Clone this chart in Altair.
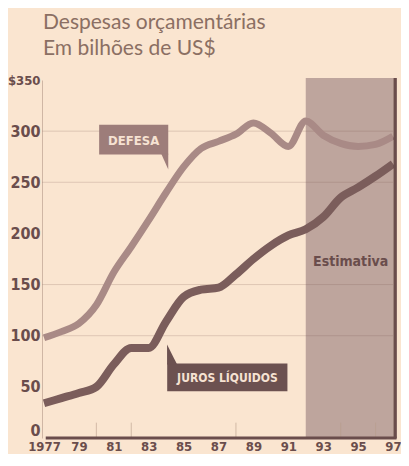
import altair as alt
import pandas as pd

# ---- data ----
years = list(range(1977, 1998))
defesa = [98, 104, 112, 130, 162, 187, 213, 240, 265, 283, 290, 297, 308, 298, 285, 310, 296, 288, 285, 287, 295]
juros = [34, 39, 44, 50, 72, 88, 88, 114, 138, 145, 147, 160, 175, 188, 198, 204, 216, 235, 245, 256, 268]

x_tick_years = [1977, 1979, 1981, 1983, 1985, 1987, 1989, 1991, 1993, 1995, 1997]
y_ticks = [0, 50, 100, 150, 200, 250, 300, 350]
grid_values = [100, 150, 250, 300]
minor_tick_years = [1980, 1982, 1988, 1994, 1996]
estimate_start, estimate_end = 1992, 1997

title_lines = ["Despesas orçamentárias", "Em bilhões de US$"]

# ---- styles ----
BG = "#fae5d0"
SHADE = "#bea59d"
DEF_LINE = "#a98a86"
JUR_LINE = "#7b5d5b"
DEF_BOX = "#9d7d7a"
JUR_BOX = "#6c5150"
BOX_TEXT = "#f6e2d2"
DARK = "#6a4d4c"
TITLE_C = "#8b6f63"
NARROW = "'DejaVu Sans Condensed', 'Liberation Sans Narrow', 'Liberation Sans', sans-serif"

x_scale = alt.Scale(domain=[1977, 1997], nice=False, zero=False)
y_scale = alt.Scale(domain=[0, 350], nice=False)

x_axis = alt.Axis(values=x_tick_years,
                  labelExpr="datum.value == 1977 ? '1977' : substring('' + datum.value, 2)",
                  ticks=False, domain=False, grid=False, title=None,
                  labelFont=NARROW, labelFontWeight="bold", labelFontSize=13,
                  labelColor=DARK, labelPadding=2, labelFlush=False)
y_axis = alt.Axis(values=y_ticks,
                  labelExpr="datum.value == 350 ? '$350' : datum.label",
                  ticks=False, domain=True, domainColor="#cfb6a4", domainWidth=1,
                  grid=False, title=None, offset=2, labelPadding=2,
                  labelFont=NARROW, labelFontWeight="bold",
                  labelFontSize={"condition": {"test": "datum.value == 350", "value": 13}, "value": 16},
                  labelOffset={"condition": {"test": "datum.value == 0", "value": -8}, "value": 0},
                  labelColor=DARK)

def X(field="ano"):
    return alt.X(f"{field}:Q", scale=x_scale, axis=x_axis)

def Y(field="valor"):
    return alt.Y(f"{field}:Q", scale=y_scale, axis=y_axis)

# shaded estimate region
shade = alt.Chart(pd.DataFrame({"ano": [estimate_start], "ano2": [estimate_end],
                                "valor": [0], "valor2": [352]})).mark_rect(
    color=SHADE).encode(x=X(), x2="ano2:Q", y=Y(), y2="valor2:Q")

grid = alt.Chart(pd.DataFrame({"valor": grid_values, "ano": [1976.9] * len(grid_values),
                               "ano2": [1997] * len(grid_values)})).mark_rule(
    color="#7a5c50", opacity=0.22, strokeWidth=1).encode(x=X(), x2="ano2:Q", y=Y())

minor = alt.Chart(pd.DataFrame({"ano": minor_tick_years, "valor": [0] * len(minor_tick_years),
                                "valor2": [15] * len(minor_tick_years)})).mark_rule(
    color="#b89c8a", opacity=0.6, strokeWidth=1).encode(x=X(), y=Y(), y2="valor2:Q")

df_def = pd.DataFrame({"ano": years, "valor": defesa})
df_jur = pd.DataFrame({"ano": years, "valor": juros})

line_def = alt.Chart(df_def).mark_line(color=DEF_LINE, strokeWidth=7, interpolate="monotone",
                                       strokeCap="butt").encode(x=X(), y=Y())
line_jur = alt.Chart(df_jur).mark_line(color=JUR_LINE, strokeWidth=8, interpolate="monotone",
                                       strokeCap="butt").encode(x=X(), y=Y())

# axis frame: bottom and right
bottom = alt.Chart(pd.DataFrame({"ano": [1977.1], "ano2": [1997.2], "valor": [0]})).mark_rule(
    color=DARK, strokeWidth=3).encode(x=X(), x2="ano2:Q", y=Y())
right = alt.Chart(pd.DataFrame({"ano": [1997.12], "valor": [-0.5], "valor2": [352]})).mark_rule(
    color=DARK, strokeWidth=3.5).encode(x=X(), y=Y(), y2="valor2:Q")

# label boxes
def_box = alt.Chart(pd.DataFrame({"ano": [1980.16], "ano2": [1984.12],
                                  "valor": [277.1], "valor2": [306.2]})).mark_rect(
    color=DEF_BOX).encode(x=X(), x2="ano2:Q", y=Y(), y2="valor2:Q")
def_tail = alt.Chart(pd.DataFrame({"ano": [1983.92], "valor": [269.8]})).mark_point(
    shape="M -0.47 -1.1 L 0.47 -1.1 L 0.47 1 Z", filled=True, size=225, opacity=1,
    color=DEF_BOX, strokeWidth=0).encode(x=X(), y=Y())
def_txt = alt.Chart(pd.DataFrame({"ano": [1982.14], "valor": [290.7], "t": ["DEFESA"]})).mark_text(
    font=NARROW, fontWeight="bold", fontSize=13, color=BOX_TEXT, baseline="middle",
    align="center").encode(x=X(), y=Y(), text="t:N")

jur_box = alt.Chart(pd.DataFrame({"ano": [1984.06], "ano2": [1990.95],
                                  "valor": [45.7], "valor2": [72.9]})).mark_rect(
    color=JUR_BOX).encode(x=X(), x2="ano2:Q", y=Y(), y2="valor2:Q")
jur_tail = alt.Chart(pd.DataFrame({"ano": [1984.34], "valor": [82.1]})).mark_point(
    shape="M -0.53 -1 L -0.53 1.1 L 0.53 1.1 Z", filled=True, size=361, opacity=1,
    color=JUR_BOX, strokeWidth=0).encode(x=X(), y=Y())
jur_txt = alt.Chart(pd.DataFrame({"ano": [1987.51], "valor": [58.3], "t": ["JUROS LÍQUIDOS"]})).mark_text(
    font=NARROW, fontWeight="bold", fontSize=12, color=BOX_TEXT, baseline="middle",
    align="center").encode(x=X(), y=Y(), text="t:N")

est_txt = alt.Chart(pd.DataFrame({"ano": [1994.57], "valor": [172], "t": ["Estimativa"]})).mark_text(
    font=NARROW, fontWeight="bold", fontSize=14, color=DARK, baseline="middle",
    align="center").encode(x=X(), y=Y(), text="t:N")

# title lines
title1 = alt.Chart(pd.DataFrame({"t": [title_lines[0]]})).mark_text(
    font="Lato", fontSize=21, color=TITLE_C, align="left", baseline="alphabetic").encode(
    x=alt.value(-1), y=alt.value(-51), text="t:N")
title2 = alt.Chart(pd.DataFrame({"t": [title_lines[1]]})).mark_text(
    font="Lato", fontSize=21, color=TITLE_C, align="left", baseline="alphabetic").encode(
    x=alt.value(-1), y=alt.value(-25), text="t:N")

chart = alt.layer(
    shade, grid, minor, line_def, line_jur, bottom, right,
    def_box, def_tail, def_txt, jur_box, jur_tail, jur_txt, est_txt, title1, title2
).properties(
    width=349, height=358,
    autosize=alt.AutoSizeParams(type="none"),
    padding={"left": 36, "top": 72, "right": 8, "bottom": 16},
    background=BG
).configure_view(stroke=None)

chart.save("out.html", embed_options={"renderer": "svg", "actions": False})
